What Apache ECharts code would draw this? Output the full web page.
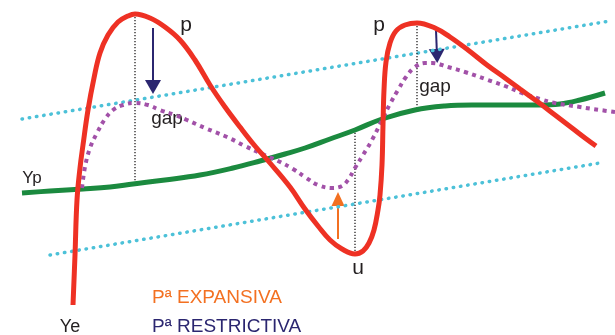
<!DOCTYPE html>
<html>
<head>
<meta charset="utf-8">
<script src="https://cdn.jsdelivr.net/npm/echarts@6/dist/echarts.min.js"></script>
<style>
  html, body { margin: 0; padding: 0; background: #fff; }
  #chart { width: 615px; height: 335px; }
</style>
</head>
<body>
<div id="chart"></div>
<script>
// positions, in pixel units of the 615x335 frame (y grows down)
const actualOutput = [
  [73, 305], [75, 255], [77, 200], [80, 168], [83, 145], [88, 110], [94, 78], [100, 53],
  [108, 35], [118, 22], [128, 16], [135, 14], [150, 18], [165, 27], [180, 40], [195, 60],
  [210, 85], [225, 107], [240, 127], [255, 146], [270, 163], [290, 187], [305, 209],
  [318, 226], [330, 240], [342, 249], [355, 254], [363, 251], [369, 243], [374, 230],
  [378, 210], [380, 195], [382, 165], [383, 125], [384, 90], [386, 62], [390, 43],
  [396, 31], [405, 25], [417, 23], [435, 28], [450, 37], [468, 50], [487, 65], [505, 78],
  [520, 89], [538, 102], [555, 115], [572, 128], [585, 138], [596, 146]
]
const potentialOutput = [
  [22, 193], [50, 191], [83, 189], [110, 187], [133, 184], [165, 180], [200, 175],
  [233, 168], [260, 161], [285, 154], [305, 148], [330, 139], [355, 130], [382, 119],
  [415, 110], [445, 106], [472, 105], [505, 105], [538, 105], [560, 104], [580, 100], [605, 93]
]
const policyOutput = [
  [82, 188], [85, 167], [90, 148], [97, 133], [105, 119], [113, 110], [123, 105], [135, 103],
  [148, 105], [160, 110], [175, 115], [187, 120], [205, 128], [227, 137], [245, 146],
  [260, 153], [278, 161], [293, 169], [305, 177], [318, 185], [332, 188], [342, 186],
  [348, 180], [355, 168], [363, 155], [372, 140], [383, 118], [390, 104], [398, 90],
  [406, 77], [415, 67], [425, 63], [432, 63], [448, 67], [465, 72], [488, 80], [505, 86],
  [522, 93], [540, 99], [555, 103], [580, 107], [600, 110], [615, 112]
]
const upperBand = [[22, 119], [610, 21]]
const lowerBand = [[50, 255], [600, 163]]
const gapMarkers = [
  [[135, 14], [135, 184]],
  [[355, 254], [355, 128]],
  [[417, 23], [417, 108]]
]
const restrictiveArrows = [
  [[153, 28], [153, 87]],
  [[436, 30], [437, 56]]
]
const expansiveArrows = [
  [[338, 239], [338, 199]]
]
const labelTexts = ['p', 'p', 'gap', 'gap', 'Yp', 'Ye', 'u', 'Pª EXPANSIVA', 'Pª RESTRICTIVA']
const labelPoints = [[186, 25], [379, 25], [167, 119], [435, 87], [32, 178], [70, 327], [358, 268], [152, 298], [152, 327]]
const labelSizes = [21, 21, 19, 19, 17, 18, 21, 19, 19]
const labelColors = ['#231f20', '#231f20', '#231f20', '#231f20', '#231f20', '#231f20', '#231f20', '#f37021', '#2b2670']
const labelAligns = ['center', 'center', 'center', 'center', 'center', 'center', 'center', 'left', 'left']

const chart = echarts.init(document.getElementById('chart'))

const dottedLine = (pts, color, width, dash) => ({
  type: 'line',
  data: pts,
  symbol: 'none',
  silent: true,
  lineStyle: { color: color, width: width, type: dash, cap: 'round' }
})

const series = [
  dottedLine(upperBand, '#4cc1d8', 3.5, [0.5, 6.8]),
  dottedLine(lowerBand, '#4cc1d8', 3.5, [0.5, 6.8])
]
gapMarkers.forEach(seg => {
  series.push({
    type: 'line', data: seg, symbol: 'none', silent: true,
    lineStyle: { color: '#231f20', width: 1.3, type: [1.3, 1.7] }
  })
})
series.push({
  type: 'line', data: potentialOutput, symbol: 'none', smooth: 0.4, silent: true,
  lineStyle: { color: '#1b8a3f', width: 5 }
})
series.push({
  type: 'line', data: policyOutput, symbol: 'none', smooth: 0.4, silent: true,
  lineStyle: { color: '#a251a8', width: 4, type: [4, 4.5], cap: 'butt' }
})
series.push({
  type: 'line', data: actualOutput, symbol: 'none', smooth: 0.4, silent: true,
  lineStyle: { color: '#ee3124', width: 5 }
})
series.push({
  type: 'lines', coordinateSystem: 'cartesian2d', silent: true,
  symbol: ['none', 'triangle'], symbolSize: [0, [16, 14]],
  lineStyle: { color: '#2b2670', width: 2, opacity: 1 },
  data: restrictiveArrows.map(c => ({ coords: c }))
})
series.push({
  type: 'lines', coordinateSystem: 'cartesian2d', silent: true,
  symbol: ['none', 'triangle'], symbolSize: [0, [13, 14]],
  lineStyle: { color: '#f37021', width: 2, opacity: 1 },
  data: expansiveArrows.map(c => ({ coords: c }))
})
series.push({
  type: 'scatter', symbolSize: 0, silent: true,
  itemStyle: { opacity: 1 },
  data: labelTexts.map((t, i) => ({
    name: t,
    value: labelPoints[i],
    label: {
      show: true, position: 'inside', formatter: '{b}', opacity: 1,
      fontFamily: 'Liberation Sans, Arial, sans-serif',
      fontSize: labelSizes[i], color: labelColors[i], align: labelAligns[i], verticalAlign: 'middle'
    }
  }))
})

chart.setOption({
  animation: false,
  backgroundColor: '#ffffff',
  grid: { left: 0, right: 0, top: 0, bottom: 0 },
  xAxis: { type: 'value', min: 0, max: 615, show: false },
  yAxis: { type: 'value', min: 0, max: 335, inverse: true, show: false },
  series: series
})
</script>
</body>
</html>
